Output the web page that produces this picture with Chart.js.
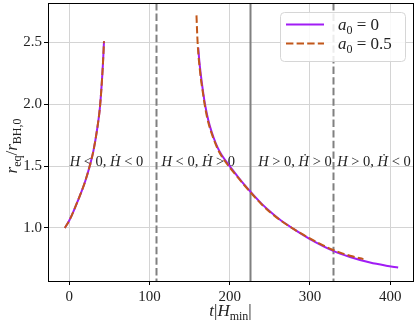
<!DOCTYPE html>
<html>
<head>
<meta charset="utf-8">
<script src="https://cdn.jsdelivr.net/npm/chart.js@4.4.1/dist/chart.umd.min.js"></script>
<style>
  html,body{margin:0;padding:0;background:#fff;}
  #wrap{width:417px;height:323px;}
</style>
</head>
<body>
<div id="wrap"><canvas id="chart" width="417" height="323"></canvas></div>
<script>
// time axis t|H_min| and r_eq/r_BH,0
const tBefore = [-5.5, 0, 5, 10, 15, 20, 25, 30, 35, 38, 40, 42, 43.3];
const rBeforeA0 = [1.0, 1.06, 1.13, 1.21, 1.29, 1.38, 1.49, 1.62, 1.81, 1.96, 2.12, 2.33, 2.51];
const rBeforeA05 = [1.0, 1.06, 1.13, 1.21, 1.29, 1.38, 1.49, 1.62, 1.81, 1.96, 2.12, 2.33, 2.51];

const tAfterA0 = [160.8, 162, 164, 166, 169, 172, 175, 180, 185, 190, 200, 212, 225, 240, 250, 262, 280, 300, 329, 350, 375, 395, 410];
const rAfterA0 = [2.46, 2.36, 2.24, 2.14, 2.01, 1.91, 1.83, 1.73, 1.65, 1.59, 1.50, 1.40, 1.30, 1.195, 1.135, 1.07, 0.99, 0.91, 0.815, 0.765, 0.72, 0.695, 0.68];

const tAfterA05 = [158.6, 159.3, 160, 161, 162.5, 164, 166, 169, 172, 175, 180, 185, 190, 200, 212, 225, 240, 250, 262, 280, 300, 329, 350, 366.7];
const rAfterA05 = [2.72, 2.60, 2.50, 2.40, 2.30, 2.21, 2.12, 1.99, 1.89, 1.815, 1.72, 1.64, 1.58, 1.49, 1.395, 1.295, 1.19, 1.13, 1.068, 0.99, 0.915, 0.822, 0.775, 0.748];

const seriesNames = ['a0 = 0', 'a0 = 0.5'];
const xTicks = [0, 100, 200, 300, 400];
const yTicks = [1.0, 1.5, 2.0, 2.5];

// phase boundaries (dashed, solid, dashed)
const boundaryT = [108, 225, 329];
const boundaryDashed = [true, false, true];
// region labels: [sign H, sign Hdot]
const regionT = [0.5, 115, 235.5, 334];
const regionY = 1.5;
const regionSigns = [['<', '<'], ['<', '>'], ['>', '>'], ['>', '<']];

const PURPLE = '#a11cf5';
const ORANGE = '#c2571a';
const SERIF = '"Liberation Serif", "DejaVu Serif", serif';

function toPoints(ts, rs){ return ts.map((t,i)=>({x:t, y:rs[i]})); }
function joinSegments(a, b){ return a.concat([{x:(a[a.length-1].x+b[0].x)/2, y:null}], b); }

// draws runs of [text, font, dy] left to right, returns end x
function drawRuns(ctx, runs, x, y){
  runs.forEach(r=>{
    ctx.font = r[1];
    ctx.fillText(r[0], x, y + (r[2]||0));
    x += ctx.measureText(r[0]).width;
  });
  return x;
}
function runsWidth(ctx, runs){
  let w=0;
  runs.forEach(r=>{ ctx.font=r[1]; w+=ctx.measureText(r[0]).width; });
  return w;
}

const extras = {
  id:'extras',
  beforeDatasetsDraw(chart){
    const {ctx, chartArea:a, scales:{x,y}} = chart;
    ctx.save();
    ctx.beginPath(); ctx.rect(a.left, a.top, a.right-a.left, a.bottom-a.top); ctx.clip();
    // boundary lines
    boundaryT.forEach((t,i)=>{
      const px = Math.round(x.getPixelForValue(t))+0.5;
      ctx.strokeStyle = '#808080';
      ctx.lineWidth = 2;
      ctx.setLineDash(boundaryDashed[i] ? [7.4, 3.2] : []);
      ctx.beginPath(); ctx.moveTo(px, a.top); ctx.lineTo(px, a.bottom); ctx.stroke();
    });
    ctx.setLineDash([]);
    // region labels
    ctx.fillStyle = '#222';
    ctx.textBaseline = 'alphabetic';
    ctx.textAlign = 'left';
    const it = 'italic 14.5px ' + SERIF, rm = '14.5px ' + SERIF;
    regionT.forEach((t,i)=>{
      const s = regionSigns[i];
      drawRuns(ctx, [['H', it], [' ' + s[0] + ' 0, ', rm], ['\u1E22', it], [' ' + s[1] + ' 0', rm]],
        x.getPixelForValue(t), y.getPixelForValue(regionY));
    });
    ctx.restore();
  },
  afterDraw(chart){
    const {ctx, chartArea:a} = chart;
    ctx.save();
    // frame
    ctx.strokeStyle = '#000'; ctx.lineWidth = 1;
    ctx.strokeRect(Math.round(a.left)+0.5, Math.round(a.top)+0.5, Math.round(a.right-a.left), Math.round(a.bottom-a.top));
    ctx.fillStyle = '#222';
    ctx.textBaseline = 'alphabetic';
    // x title
    const xRuns = [['t', 'italic 17px '+SERIF], ['|', '17px '+SERIF], ['H', 'italic 17px '+SERIF], ['min', '12px '+SERIF, 4], ['|', '17px '+SERIF]];
    const xw = runsWidth(ctx, xRuns);
    drawRuns(ctx, xRuns, (a.left+a.right)/2 - xw/2, 316);
    // y title
    const yRuns = [['r', 'italic 17px '+SERIF], ['eq', '12px '+SERIF, 4], ['/', '17px '+SERIF], ['r', 'italic 17px '+SERIF], ['BH,0', '12px '+SERIF, 4]];
    const yw = runsWidth(ctx, yRuns);
    ctx.translate(17, 146);
    ctx.rotate(-Math.PI/2);
    drawRuns(ctx, yRuns, -yw/2, 0);
    ctx.restore();
    // legend
    ctx.save();
    const lx=280.5, ly=12.5, lw=125, lh=49, rad=4;
    ctx.fillStyle='rgba(255,255,255,0.85)';
    ctx.strokeStyle='#d6d6d6'; ctx.lineWidth=1;
    ctx.beginPath(); ctx.roundRect(lx, ly, lw, lh, rad); ctx.fill(); ctx.stroke();
    const colors=[PURPLE, ORANGE], dashes=[[], [7.4,3.2]], rows=[24.5, 43.5], vals=['0','0.5'];
    rows.forEach((ry,i)=>{
      ctx.strokeStyle=colors[i]; ctx.lineWidth=2; ctx.setLineDash(dashes[i]);
      ctx.beginPath(); ctx.moveTo(286, ry); ctx.lineTo(324, ry); ctx.stroke();
      ctx.setLineDash([]);
      ctx.fillStyle='#222';
      drawRuns(ctx, [['a', 'italic 17px '+SERIF], ['0', '12px '+SERIF, 4], [' = ' + vals[i], '17px '+SERIF]], 338, ry+5);
    });
    ctx.restore();
  }
};

new Chart(document.getElementById('chart').getContext('2d'), {
  type:'line',
  data:{
    datasets:[
      {label:seriesNames[0], data:joinSegments(toPoints(tBefore, rBeforeA0), toPoints(tAfterA0, rAfterA0)),
       borderColor:PURPLE, borderWidth:2, pointRadius:0, spanGaps:false, cubicInterpolationMode:'monotone', order:2},
      {label:seriesNames[1], data:joinSegments(toPoints(tBefore, rBeforeA05), toPoints(tAfterA05, rAfterA05)),
       borderColor:ORANGE, borderWidth:2, borderDash:[7.4,3.2], pointRadius:0, spanGaps:false, cubicInterpolationMode:'monotone', order:1}
    ]
  },
  options:{
    responsive:false, animation:false, parsing:true,
    layout:{padding:{top:3, right:4, left:0, bottom:0}},
    plugins:{legend:{display:false}, tooltip:{enabled:false}},
    scales:{
      x:{type:'linear', min:-26.5, max:428.5,
        afterBuildTicks:s=>{ s.ticks = xTicks.map(v=>({value:v})); },
        afterFit:s=>{ s.height = 42; s.paddingLeft = 0; s.paddingRight = 0; },
        grid:{color:'#d4d4d4', lineWidth:1, tickColor:'#000', tickLength:4},
        border:{display:false},
        ticks:{color:'#222', font:{family:SERIF, size:15}, padding:3, maxRotation:0, callback:v=>String(v)}
      },
      y:{type:'linear', min:0.571, max:2.82,
        afterBuildTicks:s=>{ s.ticks = yTicks.map(v=>({value:v})); },
        afterFit:s=>{ s.width = 48; s.paddingTop = 0; s.paddingBottom = 0; },
        grid:{color:'#d4d4d4', lineWidth:1, tickColor:'#000', tickLength:4},
        border:{display:false},
        ticks:{color:'#222', font:{family:SERIF, size:15}, padding:2, callback:v=>v.toFixed(1)}
      }
    }
  },
  plugins:[extras]
});
</script>
</body>
</html>
